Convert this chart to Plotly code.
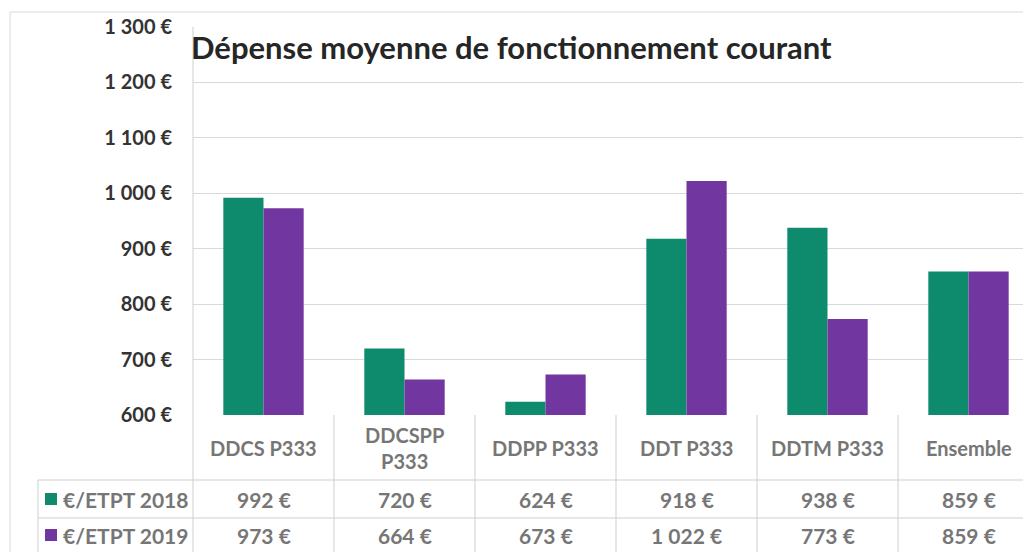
import plotly.graph_objects as go

categories = ["DDCS P333", "DDCSPP<br>P333", "DDPP P333", "DDT P333", "DDTM P333", "Ensemble"]
series_names = ["€/ETPT 2018", "€/ETPT 2019"]
values_2018 = [992, 720, 624, 918, 938, 859]
values_2019 = [973, 664, 673, 1022, 773, 859]
tick_values = [600, 700, 800, 900, 1000, 1100, 1200, 1300]
title_text = "Dépense moyenne de fonctionnement courant"

GREEN = "#0E8A6C"
PURPLE = "#7236A0"
GRID = "#d9d9d9"
LINE = "#cfcfcf"
FONT = "Lato"
GREY = "#767676"


def euro(v):
    s = f"{v:,}".replace(",", " ")
    return f"{s} €"


OFF = 8  # page body margin
W, H = 1031, 552
L, R, T = 193 - OFF, 0, 27 - OFF
B = H - (415 - OFF)
pw = W - L - R
ph = H - T - B


def py(p):
    return (415 - p) / ph


def px(p):
    return (p - 193) / pw


fig = go.Figure()
fig.add_trace(go.Bar(x=list(range(len(categories))), y=values_2018, name=series_names[0],
                     marker=dict(color=GREEN, line=dict(width=0))))
fig.add_trace(go.Bar(x=list(range(len(categories))), y=values_2019, name=series_names[1],
                     marker=dict(color=PURPLE, line=dict(width=0))))

annotations = []
annotations.append(dict(text=title_text, xref="paper", yref="paper", x=px(189), y=py(47),
                        xanchor="left", yanchor="middle", showarrow=False,
                        font=dict(family=FONT, size=31, color="#262626", weight="bold")))
for i, c in enumerate(categories):
    annotations.append(dict(text=c, xref="x", yref="paper", x=i, y=py(448),
                            xanchor="center", yanchor="middle", showarrow=False,
                            font=dict(family=FONT, size=20, color=GREY, weight="bold")))
row_y = [py(499), py(535)]
for r, vals in enumerate([values_2018, values_2019]):
    for i, v in enumerate(vals):
        annotations.append(dict(text=euro(v), xref="x", yref="paper", x=i, y=row_y[r],
                                xanchor="center", yanchor="middle", showarrow=False,
                                font=dict(family=FONT, size=21, color=GREY, weight="bold")))
    annotations.append(dict(text=series_names[r], xref="paper", yref="paper", x=px(61), y=row_y[r],
                            xanchor="left", yanchor="middle", showarrow=False,
                            font=dict(family=FONT, size=21, color=GREY, weight="bold")))

shapes = []
shapes.append(dict(type="rect", xref="paper", yref="paper", x0=px(10), x1=px(1045), y0=py(12), y1=py(570),
                   line=dict(color=GRID, width=1), layer="below"))
shapes.append(dict(type="line", xref="paper", yref="paper", x0=0, x1=0, y0=py(560), y1=1,
                   line=dict(color=LINE, width=1)))
for i in range(len(categories) - 1):
    shapes.append(dict(type="line", xref="x", yref="paper", x0=i + 0.5, x1=i + 0.5, y0=py(560), y1=0,
                       line=dict(color=LINE, width=1)))
for yy in [480, 518]:
    shapes.append(dict(type="line", xref="paper", yref="paper", x0=px(38), x1=1.0, y0=py(yy), y1=py(yy),
                       line=dict(color=LINE, width=1)))
shapes.append(dict(type="line", xref="paper", yref="paper", x0=px(38), x1=px(38), y0=py(560), y1=py(480),
                   line=dict(color=LINE, width=1)))
for r, col in enumerate([GREEN, PURPLE]):
    cy = [499, 535][r]
    shapes.append(dict(type="rect", xref="paper", yref="paper", x0=px(45), x1=px(57), y0=py(cy - 6), y1=py(cy + 6),
                       fillcolor=col, line=dict(width=0)))

fig.update_layout(
    width=W, height=H,
    margin=dict(l=L, r=R, t=T, b=B, pad=0),
    paper_bgcolor="white", plot_bgcolor="white",
    barmode="group", bargap=0.43, bargroupgap=0,
    showlegend=False,
    annotations=annotations, shapes=shapes,
    xaxis=dict(range=[-0.5, 5.5], showticklabels=False, showgrid=False, zeroline=False,
               showline=False, fixedrange=True),
    yaxis=dict(range=[600, 1300], tickvals=tick_values, ticktext=[euro(v) for v in tick_values],
               showgrid=True, gridcolor=GRID, gridwidth=1, zeroline=False, showline=False,
               ticklabelstandoff=20,
               tickfont=dict(family=FONT, size=20, color="#333333", weight="bold")),
)

fig.write_html("out.html")
